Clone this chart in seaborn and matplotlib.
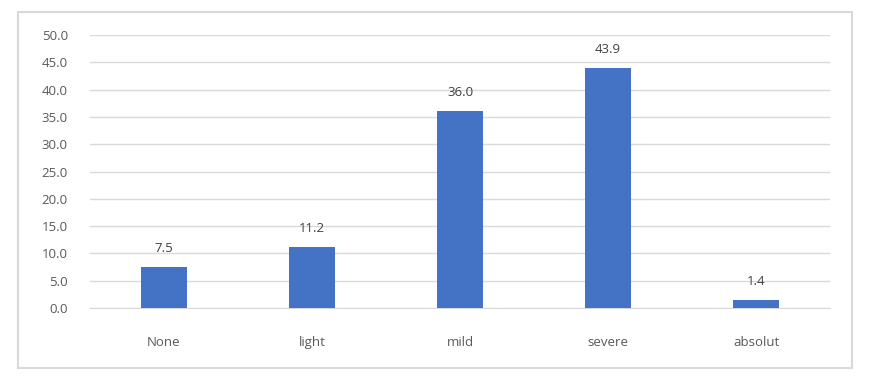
import matplotlib
matplotlib.use("Agg")
import matplotlib.pyplot as plt
import seaborn as sns
import pandas as pd
from matplotlib.patches import Rectangle

# --- data ---
categories = ["None", "light", "mild", "severe", "absolut"]
values = [7.5, 11.2, 36.0, 43.9, 1.4]
yticks = [0, 5, 10, 15, 20, 25, 30, 35, 40, 45, 50]

df = pd.DataFrame({"category": categories, "value": values})

sns.set_style("white")
plt.rcParams["font.family"] = ["Open Sans", "DejaVu Sans"]

fig = plt.figure(figsize=(8.72, 3.81), dpi=100)
ax = fig.add_axes([90 / 872, 1 - 308 / 381, 740 / 872, 273 / 381])

# outer chart border like an Excel chart area
fig.patches.append(Rectangle((18 / 872, 1 - 368 / 381), 834 / 872, 356 / 381,
                             transform=fig.transFigure, fill=False,
                             edgecolor="#D9D9D9", linewidth=1.5))

sns.barplot(data=df, x="category", y="value", color="#4472C4",
            width=0.31, saturation=1, linewidth=0, ax=ax, zorder=3)

for i, v in enumerate(values):
    ax.text(i, v + 2.2, f"{v:.1f}", ha="center", va="bottom",
            fontsize=9.5, color="#404040")

ax.set_ylim(0, 50)
ax.set_xlim(-0.5, 4.5)
ax.set_yticks(yticks)
ax.set_yticklabels([f"{t:.1f}" for t in yticks])
ax.yaxis.grid(True, color="#D9D9D9", linewidth=1)
ax.set_axisbelow(True)
for s in ax.spines.values():
    s.set_visible(False)
ax.spines["bottom"].set_visible(True)
ax.spines["bottom"].set_color("#D9D9D9")
ax.tick_params(axis="y", length=0, pad=16, labelsize=9.5, labelcolor="#595959")
ax.tick_params(axis="x", length=0, pad=20, labelsize=9.5, labelcolor="#595959")
ax.set_xlabel("")
ax.set_ylabel("")

fig.savefig("out.png", dpi=100)
